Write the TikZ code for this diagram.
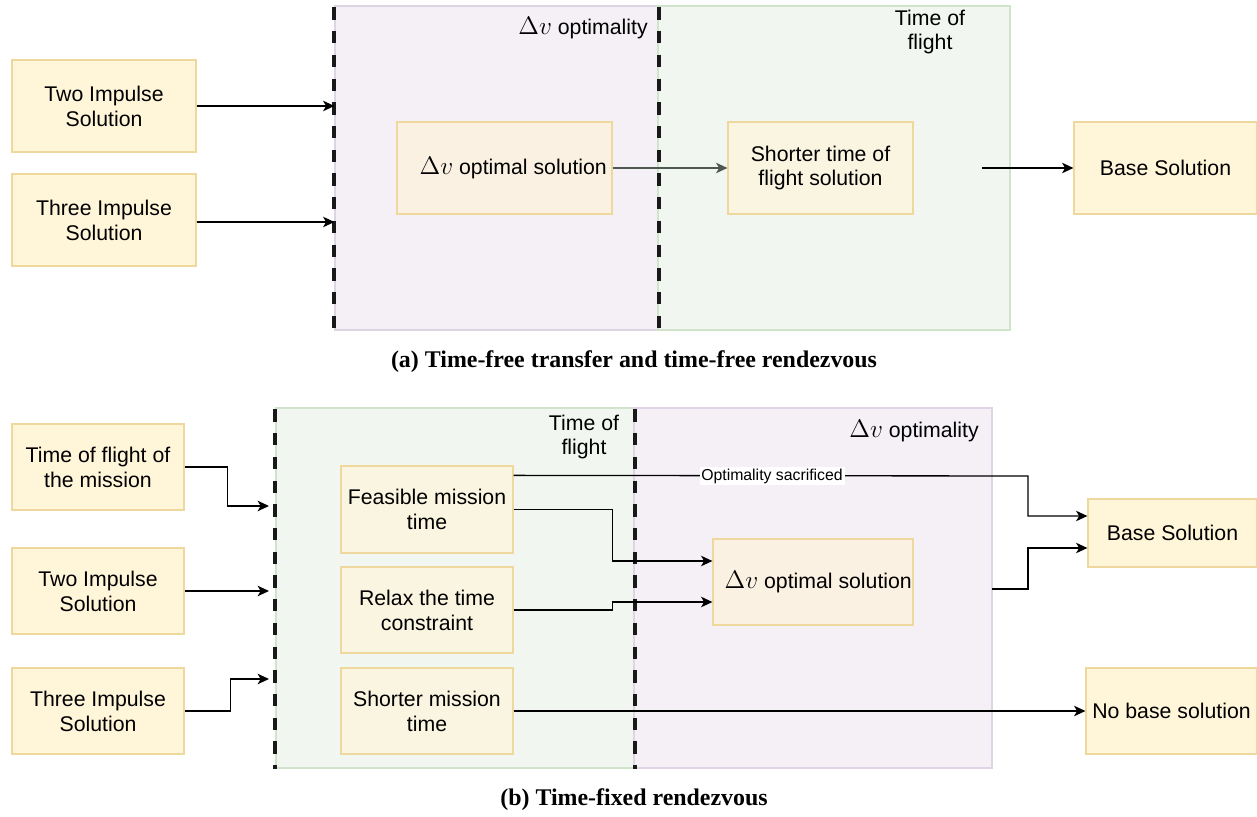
\documentclass[tikz,border=0pt]{standalone}
\usepackage[no-math]{fontspec}
\setmainfont{Liberation Sans}
\newfontfamily\capfont{Liberation Serif}
\usetikzlibrary{arrows.meta,calc}
\definecolor{boxfill}{RGB}{255,245,217}
\definecolor{boxfillP}{RGB}{250,241,226}
\definecolor{boxfillG}{RGB}{250,245,224}
\definecolor{boxdraw}{RGB}{238,216,158}
\definecolor{purfill}{RGB}{244,240,246}
\definecolor{purdraw}{RGB}{222,212,230}
\definecolor{grnfill}{RGB}{241,247,240}
\definecolor{grndraw}{RGB}{208,228,204}
\definecolor{grayarrow}{RGB}{78,88,80}
\newcommand{\dv}{{\fontsize{14.5}{14}\selectfont$\Delta v$}}
\tikzset{
  box/.style={draw=boxdraw, fill=boxfill, line width=0.7pt, align=center,
    inner sep=0pt, font=\fontsize{12.1}{14.2}\selectfont},
  region/.style={line width=0.7pt, inner sep=0pt},
  divider/.style={line width=2.3pt, dash pattern=on 7pt off 6.5pt, black!90},
  arr/.style={line width=0.75pt, -{Stealth[length=6.5pt,width=6pt,inset=1.8pt]}},
  lbl/.style={font=\fontsize{12.1}{14.2}\selectfont, align=center, inner sep=0pt},
  captext/.style={font=\capfont\bfseries\fontsize{13.6}{15}\selectfont, inner sep=0pt},
}
\begin{document}
\begin{tikzpicture}[x=0.02cm,y=-0.02cm]
\useasboundingbox (0,0) rectangle (1257,817);
% ---------- (a) ----------
\node[region, draw=purdraw, fill=purfill, minimum width=6.46cm, minimum height=6.48cm] (purA) at (496.5,168) {};
\node[region, draw=grndraw, fill=grnfill, minimum width=7.04cm, minimum height=6.48cm] (grnA) at (834,168) {};
\draw[divider] ($(purA.north west)+(0,2)$) -- (purA.south west);
\draw[divider] ($(purA.north east)+(0,2)$) -- (purA.south east);
\node[lbl, anchor=east] (lblDvA) at (648,28) {\dv{} optimality};
\node[lbl] (lblTofA) at (930,32) {Time of\\flight};

\node[box, minimum width=3.68cm, minimum height=1.84cm] (twoA) at (104,106) {Two Impulse\\Solution};
\node[box, minimum width=3.68cm, minimum height=1.84cm] (threeA) at (104,220) {Three Impulse\\Solution};
\node[box, fill=boxfillP, minimum width=4.3cm, minimum height=1.84cm] (dvA) at (504.5,168) {\hspace*{10pt}\dv{} optimal solution};
\node[box, fill=boxfillG, minimum width=3.7cm, minimum height=1.84cm] (shortA) at (820.5,168) {Shorter time of\\flight solution};
\node[box, minimum width=3.66cm, minimum height=1.84cm] (baseA) at (1165.5,168) {Base Solution};

\draw[arr] (twoA.east) -- (twoA.east -| purA.west);
\draw[arr] ($(threeA.east)+(0,2)$) -- ($(threeA.east -| purA.west)+(0,2)$);
\draw[arr, grayarrow] (dvA.east) -- (shortA.west);
\coordinate (startBase) at (982,168);
\draw[arr] (startBase) -- (baseA.west);

\node[captext] (capA) at (634,362) {(a) Time-free transfer and time-free rendezvous};

% ---------- (b) ----------
\node[region, draw=grndraw, fill=grnfill, minimum width=7.16cm, minimum height=7.2cm] (grnB) at (455,588) {};
\node[region, draw=purdraw, fill=purfill, minimum width=7.16cm, minimum height=7.2cm] (purB) at (813,588) {};
\draw[divider] ($(grnB.north west)+(0,2)$) -- (grnB.south west);
\draw[divider] ($(grnB.north east)+(0,2)$) -- (grnB.south east);
\node[lbl] (lblTofB) at (584,437) {Time of\\flight};
\node[lbl, anchor=east] (lblDvB) at (979,431) {\dv{} optimality};

\node[box, minimum width=3.44cm, minimum height=1.72cm] (tofB) at (98,467) {Time of flight of\\the mission};
\node[box, minimum width=3.44cm, minimum height=1.72cm] (twoB) at (98,591) {Two Impulse\\Solution};
\node[box, minimum width=3.44cm, minimum height=1.72cm] (threeB) at (98,711) {Three Impulse\\Solution};
\node[box, fill=boxfillG, minimum width=3.44cm, minimum height=1.74cm] (feasB) at (427,509.5) {Feasible mission\\time};
\node[box, fill=boxfillG, minimum width=3.44cm, minimum height=1.72cm] (relaxB) at (427,610) {Relax the time\\constraint};
\node[box, fill=boxfillG, minimum width=3.44cm, minimum height=1.72cm] (shortB) at (427,711) {Shorter mission\\time};
\node[box, fill=boxfillP, minimum width=4cm, minimum height=1.72cm] (dvB) at (813,582) {\hspace*{6pt}\dv{} optimal solution};
\node[box, minimum width=3.38cm, minimum height=1.36cm] (baseB) at (1172.5,533) {Base Solution};
\node[box, minimum width=3.42cm, minimum height=1.72cm] (nobaseB) at (1171.5,711) {No base solution};

\coordinate (inTof) at (269,506);
\coordinate (inTwo) at (269,591);
\coordinate (inThree) at (269,679);
\draw[arr] (tofB.east) -- ++(43,0) |- (inTof);
\draw[arr] (twoB.east) -- (inTwo);
\draw[arr] (threeB.east) -- ++(46,0) |- (inThree);

\draw[arr] ($(feasB.north east)+(0,10)$) -- (1028,476) |- ($(baseB.west)+(0,-17)$);
\node[fill=white, inner sep=1pt, font=\fontsize{9}{10}\selectfont] (lblOpt) at (772,476) {Optimality sacrificed};
\draw[arr] (feasB.east) -- ++(99,0) |- ($(dvB.west)+(0,-21)$);
\draw[arr] (relaxB.east) -- ++(99,0) |- ($(dvB.west)+(0,20)$);
\coordinate (dvOut) at (992,589);
\draw[arr] (dvOut) -- (1028,589) |- ($(baseB.west)+(0,15)$);
\draw[arr] (shortB.east) -- (nobaseB.west);

\node[captext] (capB) at (634,800) {(b) Time-fixed rendezvous};
\end{tikzpicture}
\end{document}
